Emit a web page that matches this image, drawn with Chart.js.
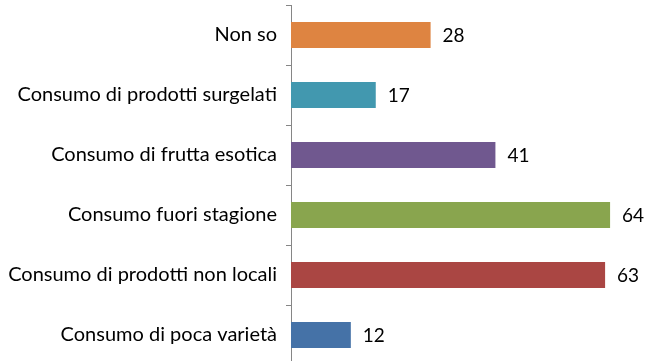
<!DOCTYPE html>
<html>
<head>
<meta charset="utf-8">
<script src="https://cdn.jsdelivr.net/npm/chart.js@4.4.1/dist/chart.umd.min.js"></script>
<style>
  html, body { margin: 0; padding: 0; background: #fff; overflow: hidden; }
  #wrap { width: 654px; height: 365px; }
</style>
</head>
<body>
<div id="wrap"><canvas id="chart" width="654" height="365"></canvas></div>
<script>
// categories, top to bottom
const categories = [
    'Non so',
    'Consumo di prodotti surgelati',
    'Consumo di frutta esotica',
    'Consumo fuori stagione',
    'Consumo di prodotti non locali',
    'Consumo di poca varietà'
];
const values = [28, 17, 41, 64, 63, 12];
const barColors = ['#DE8441', '#4298AF', '#70588F', '#89A54E', '#AA4643', '#4572A7'];

const FONT = 'Lato, "Open Sans", sans-serif';

// writes the value just past the end of each bar
const valueLabels = {
    id: 'valueLabels',
    afterDatasetsDraw(chart) {
        const ctx = chart.ctx;
        const meta = chart.getDatasetMeta(0);
        ctx.save();
        ctx.font = '19px ' + FONT;
        ctx.fillStyle = '#000';
        ctx.textBaseline = 'middle';
        ctx.textAlign = 'left';
        meta.data.forEach((bar, i) => {
            ctx.fillText(String(values[i]), bar.x + 12, bar.y + 1);
        });
        ctx.restore();
    }
};

new Chart(document.getElementById('chart'), {
    type: 'bar',
    data: {
        labels: categories,
        datasets: [{
            data: values,
            backgroundColor: barColors,
            borderWidth: 0,
            categoryPercentage: 1,
            barPercentage: 0.435
        }]
    },
    options: {
        indexAxis: 'y',
        responsive: false,
        animation: false,
        layout: { padding: { top: 5, right: 14, bottom: 0, left: 0 } },
        plugins: {
            legend: { display: false },
            tooltip: { enabled: false }
        },
        scales: {
            x: {
                display: false,
                min: 0,
                max: 70
            },
            y: {
                afterFit(scale) {
                    scale.width = 291;
                    scale.paddingTop = 0;
                    scale.paddingBottom = 0;
                },
                border: { color: '#868686', width: 1 },
                grid: {
                    drawOnChartArea: false,
                    drawTicks: true,
                    tickLength: 5,
                    color: '#868686',
                    offset: true
                },
                ticks: {
                    color: '#000',
                    padding: 9,
                    font: { family: FONT, size: 20 }
                }
            }
        }
    },
    plugins: [valueLabels]
});
</script>
</body>
</html>
